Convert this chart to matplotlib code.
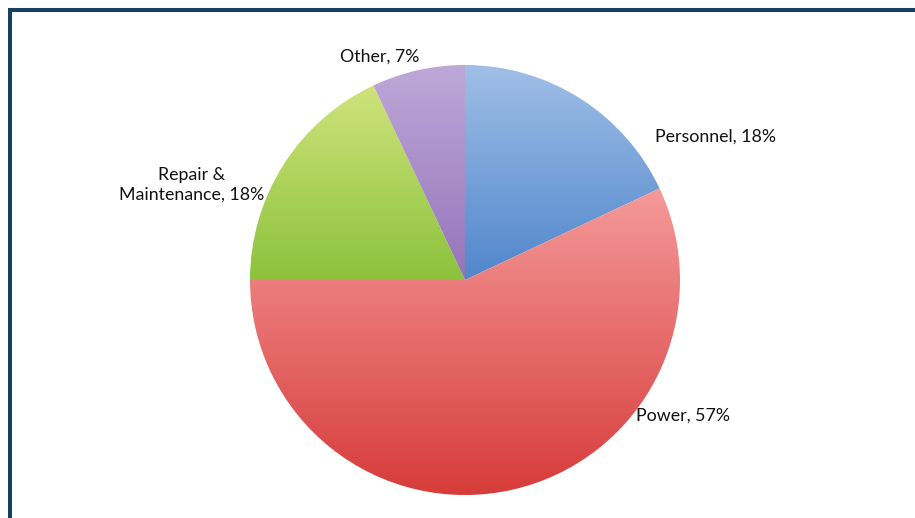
import numpy as np
import matplotlib
matplotlib.use("Agg")
import matplotlib.pyplot as plt
from matplotlib.colors import LinearSegmentedColormap
from matplotlib.lines import Line2D

# Cost breakdown
categories = ["Personnel", "Power", "Repair &\nMaintenance", "Other"]
shares = [18, 57, 18, 7]

# Gradient colours per slice (top, bottom)
grad_top = ["#a0bfe6", "#f59a9a", "#cfe37c", "#bea8d8"]
grad_bottom = ["#5086cc", "#d63c3a", "#8cc23c", "#9474ba"]

W, H = 915, 518
fig = plt.figure(figsize=(W / 100, H / 100), dpi=100)
ax = fig.add_axes([0, 0, 1, 1])

cx, cy, r = 465, H - 280, 215
wedges, _ = ax.pie(shares, startangle=90, counterclock=False,
                   center=(cx, cy), radius=r,
                   wedgeprops=dict(linewidth=0, edgecolor="none"))
ax.set_xlim(0, W)
ax.set_ylim(0, H)
ax.set_aspect("equal")
ax.axis("off")

for w, ct, cb in zip(wedges, grad_top, grad_bottom):
    w.set_facecolor("none")
    ext = w.get_path().get_extents()
    cmap = LinearSegmentedColormap.from_list("g", [cb, ct])
    grad = np.linspace(0, 1, 256).reshape(-1, 1)
    im = ax.imshow(grad, cmap=cmap, origin="lower", aspect="auto",
                   extent=[ext.x0, ext.x1, ext.y0, ext.y1],
                   interpolation="bilinear", zorder=1)
    im.set_clip_path(w)
ax.set_xlim(0, W)
ax.set_ylim(0, H)

# Data labels
label_pos = [(655, 137, "left"), (636, 416, "left"), (192, 185, "center"), (380, 57, "center")]
for name, val, (x, y, ha) in zip(categories, shares, label_pos):
    ax.text(x, H - y, f"{name}, {val}%", ha=ha, va="center", fontsize=12.8,
            family="Lato", color="#111111", linespacing=1.3, zorder=3)

# Frame along the top and left edges
fc = "#173f63"
fig.add_artist(Line2D([8 / W, 1], [1 - 10 / H, 1 - 10 / H], transform=fig.transFigure,
                      color=fc, lw=2.9, solid_capstyle="butt"))
fig.add_artist(Line2D([10 / W, 10 / W], [0, 1 - 8 / H], transform=fig.transFigure,
                      color=fc, lw=2.9, solid_capstyle="butt"))

fig.savefig("out.png", dpi=100, facecolor="white")
